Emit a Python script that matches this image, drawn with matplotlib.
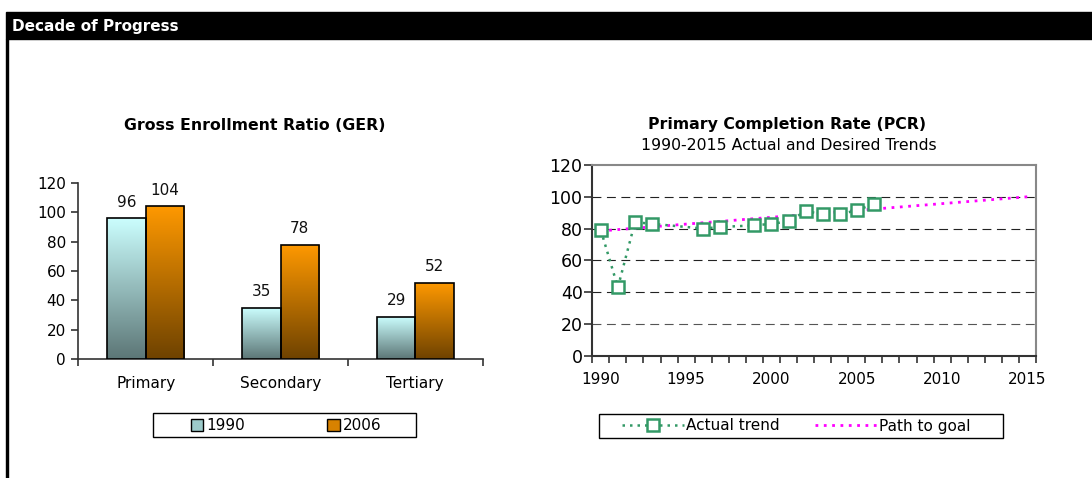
"""Decade of Progress: GER bars and PCR trend lines side by side."""

import numpy as np
import matplotlib
matplotlib.use("Agg")
import matplotlib.pyplot as plt
from matplotlib.colors import LinearSegmentedColormap
from matplotlib.patches import Rectangle, Patch
from matplotlib.lines import Line2D

# --- data -------------------------------------------------------------
categories = ["Primary", "Secondary", "Tertiary"]
ger_1990 = [96, 35, 29]
ger_2006 = [104, 78, 52]

pcr_years = [1990, 1991, 1992, 1993, 1996, 1997, 1999, 2000, 2001,
             2002, 2003, 2004, 2005, 2006]
pcr_actual = [79, 43, 84, 83, 80, 81, 82, 83, 84.5, 91, 89, 89, 91.5, 95.5]

goal_years = [1990, 2015]
goal_path = [78.5, 100]

W, H = 1092, 478
plt.rcParams["font.family"] = ["DejaVu Sans"]
fig = plt.figure(figsize=(W / 100, H / 100), dpi=100)


def fx(px):
    return px / W


def fy(py):
    return 1 - py / H


def frame(x0, y0, x1, y1):
    # legend box drawn by hand so the entries can sit where Excel put them
    fig.patches.append(Rectangle((fx(x0), fy(y1)), fx(x1 - x0), (y1 - y0) / H,
                                 transform=fig.transFigure, facecolor="white",
                                 edgecolor="black", lw=1, zorder=1))


# header bar + left border
fig.patches.append(Rectangle((fx(6), fy(39)), 1 - fx(6), 27 / H,
                             transform=fig.transFigure, color="black", zorder=0))
fig.patches.append(Rectangle((fx(6), 0), 2 / W, fy(39),
                             transform=fig.transFigure, color="black", zorder=0))
fig.text(fx(12), fy(26), "Decade of Progress", color="white",
         fontsize=11, fontweight="bold", va="center", ha="left")

# --- left: GER bars -----------------------------------------------------
ax1 = fig.add_axes([fx(78.3), fy(359.3), fx(482.7 - 78.3), (359.3 - 182.7) / H])
x = np.arange(len(categories))
bw = 0.284
b1 = ax1.bar(x - bw / 2, ger_1990, bw, edgecolor="black", linewidth=1.2, zorder=3)
b2 = ax1.bar(x + bw / 2, ger_2006, bw, edgecolor="black", linewidth=1.2, zorder=3)


def gradient(ax, bars, top, bottom):
    cmap = LinearSegmentedColormap.from_list("g", [bottom, top])
    grad = np.linspace(0, 1, 256).reshape(-1, 1)
    for bar in bars:
        x0, y0 = bar.get_x(), bar.get_y()
        w, h = bar.get_width(), bar.get_height()
        im = ax.imshow(grad, extent=[x0, x0 + w, y0, y0 + h], origin="lower",
                       cmap=cmap, aspect="auto", zorder=2.9)
        im.set_clip_path(bar)
        bar.set_facecolor("none")


gradient(ax1, b1, "#CCFFFF", "#5C7676")
gradient(ax1, b2, "#FF9900", "#6E4200")

for bars, vals in ((b1, ger_1990), (b2, ger_2006)):
    for bar, v in zip(bars, vals):
        ax1.annotate(f"{v}", (bar.get_x() + bar.get_width() / 2, v),
                     xytext=(0, 6), textcoords="offset points",
                     ha="center", va="bottom", fontsize=11, color="#111")

ax1.set_xlim(-0.5, 2.5)
ax1.set_ylim(0, 120)
ax1.set_yticks(range(0, 121, 20))
ax1.set_xticks(x)
ax1.set_xticklabels(categories)
ax1.set_xticks([-0.5, 0.5, 1.5, 2.5], minor=True)
ax1.tick_params(axis="x", which="major", length=0, pad=12, labelsize=11)
ax1.tick_params(axis="x", which="minor", length=5, width=1.2, color="#333")
ax1.tick_params(axis="y", length=5, width=1.2, color="#333", labelsize=11, pad=4)
for s in ("top", "right"):
    ax1.spines[s].set_visible(False)
for s in ("left", "bottom"):
    ax1.spines[s].set_color("#333")
    ax1.spines[s].set_linewidth(1.2)

fig.text(fx(255), fy(125), "Gross Enrollment Ratio (GER)", ha="center",
         va="center", fontsize=11.3, fontweight="bold")

frame(153, 413, 416, 437)
fig.legend(handles=[Patch(facecolor="#9CCACA", edgecolor="black"),
                    Patch(facecolor="#D88200", edgecolor="black")],
           labels=["1990", "2006"], ncol=2, loc="center",
           bbox_to_anchor=(fx(286), fy(425.5)), fontsize=11, frameon=False,
           handlelength=0.8, handleheight=0.8, handletextpad=0.2,
           columnspacing=5.4, borderpad=0)

# --- right: PCR trends --------------------------------------------------
ax2 = fig.add_axes([fx(592.3), fy(355.7), fx(1036 - 592.3), (355.7 - 165) / H])
ax2.plot(goal_years, goal_path, color="#FF00FF", lw=2, ls=(0, (1, 2)), zorder=3)
ax2.plot(pcr_years, pcr_actual, color="#339966", lw=1.8, ls=(0, (1, 2)),
         marker="s", markersize=9, markerfacecolor="white",
         markeredgecolor="#339966", markeredgewidth=1.8, zorder=4)

ax2.set_xlim(1989.5, 2015.5)
ax2.set_ylim(0, 120)
ax2.set_yticks(range(0, 121, 20))
ax2.set_xticks(range(1990, 2016, 5))
ax2.set_xticks(np.arange(1989.5, 2016, 1), minor=True)
ax2.tick_params(axis="x", which="major", length=0, pad=12, labelsize=11)
ax2.tick_params(axis="x", which="minor", length=5, width=1.2, color="#333")
ax2.tick_params(axis="y", length=6, width=1.2, color="#333", labelsize=12.5, pad=1)
for yv in range(20, 101, 20):
    ax2.axhline(yv, color="#222" if yv > 20 else "#555", lw=0.8,
                dashes=(8, 5), zorder=1)
for s in ("top", "right"):
    ax2.spines[s].set_color("#888")
    ax2.spines[s].set_linewidth(1.5)
for s in ("left", "bottom"):
    ax2.spines[s].set_color("#333")
    ax2.spines[s].set_linewidth(1.5)

fig.text(fx(787), fy(125), "Primary Completion Rate (PCR)", ha="center",
         va="center", fontsize=11.3, fontweight="bold")
fig.text(fx(789), fy(145), "1990-2015 Actual and Desired Trends", ha="center",
         va="center", fontsize=11.3)

h_act = Line2D([], [], color="#339966", lw=1.8, ls=(0, (1, 2)), marker="s",
               markersize=9, markerfacecolor="white", markeredgecolor="#339966",
               markeredgewidth=1.8)
h_goal = Line2D([], [], color="#FF00FF", lw=2, ls=(0, (1, 2)))
frame(599, 414, 1003, 438)
fig.legend(handles=[h_act, h_goal], labels=["Actual trend", "Path to goal"],
           ncol=2, loc="center", bbox_to_anchor=(fx(796), fy(426)),
           fontsize=11, frameon=False, handlelength=4.1, handletextpad=0.1,
           columnspacing=2.3, numpoints=1, borderpad=0)

fig.savefig("out.png", dpi=100)
